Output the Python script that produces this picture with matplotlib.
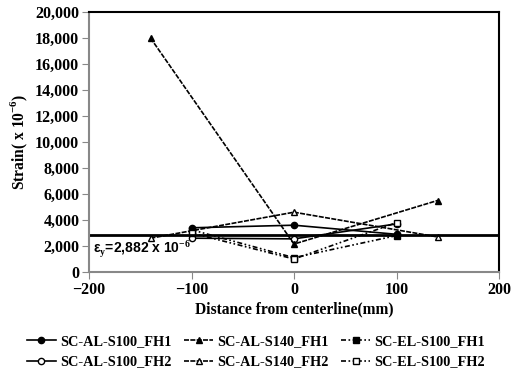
import matplotlib.pyplot as plt
from matplotlib.ticker import FuncFormatter

# ---- values ----
x_s100 = [-100, 0, 100]
x_s140 = [-140, 0, 140]

al_s100_fh1 = [3400, 3600, 2900]
al_s100_fh2 = [2600, 2550, 3700]
al_s140_fh1 = [18000, 2150, 5500]
al_s140_fh2 = [2600, 4600, 2700]
el_s100_fh1 = [3250, 1100, 2800]
el_s100_fh2 = [3000, 1000, 3800]

yield_strain = 2882

plt.rcParams['font.family'] = ['Liberation Serif', 'DejaVu Serif']
plt.rcParams['font.weight'] = 'bold'
plt.rcParams['mathtext.fontset'] = 'custom'
plt.rcParams['mathtext.rm'] = 'Liberation Serif:bold'
plt.rcParams['mathtext.bf'] = 'Liberation Serif:bold'

fig = plt.figure(figsize=(5.12, 3.74), dpi=100)
ax = fig.add_axes([89 / 512, 1 - 272 / 374, 410 / 512, 260 / 374])

dash = (0, (3, 0.8))
dashdotdot = (0, (3, 1.5, 1, 1.5, 1, 1.5))
common = dict(color='black', lw=1.2, ms=4.5, mec='black')

ax.plot(x_s100, al_s100_fh1, ls='-', marker='o', mfc='black', label='SC-AL-S100_FH1', **common)
ax.plot(x_s100, al_s100_fh2, ls='-', marker='o', mfc='white', label='SC-AL-S100_FH2', **common)
ax.plot(x_s140, al_s140_fh1, ls=dash, marker='^', mfc='black', label='SC-AL-S140_FH1', **common)
ax.plot(x_s140, al_s140_fh2, ls=dash, marker='^', mfc='white', label='SC-AL-S140_FH2', **common)
ax.plot(x_s100, el_s100_fh1, ls=dashdotdot, marker='s', mfc='black', label='SC-EL-S100_FH1', **common)
ax.plot(x_s100, el_s100_fh2, ls=dashdotdot, marker='s', mfc='white', label='SC-EL-S100_FH2', **common)

ax.axhline(yield_strain, color='black', lw=2)
ax.text(-196, yield_strain - 300, r'ε$_{\mathbf{y}}$=2,882 x 10$^{\mathbf{-6}}$',
        family=['Liberation Sans', 'DejaVu Sans'], fontsize=10, fontweight='bold', va='top', ha='left')

ax.set_xlim(-200, 200)
ax.set_ylim(0, 20000)
ax.set_xticks([-200, -100, 0, 100, 200])
ax.set_yticks(range(0, 20001, 2000))
ax.yaxis.set_major_formatter(FuncFormatter(lambda v, p: f'{int(v):,}'))
ax.tick_params(labelsize=11.5, direction='out', length=5, color='#888888', pad=2)

for s in ['left', 'bottom']:
    ax.spines[s].set_color('#888888')
    ax.spines[s].set_linewidth(1.5)
for s in ['top', 'right']:
    ax.spines[s].set_color('black')
    ax.spines[s].set_linewidth(1.5)

ax.set_xlabel('Distance from centerline(mm)', fontsize=11.2, fontweight='bold', labelpad=3)
ax.set_ylabel('Strain( x 10$^{\\mathbf{-6}}$)', fontsize=11.2, fontweight='bold', labelpad=4)

fig.legend(loc='lower center', bbox_to_anchor=(0.5, -0.02), ncol=3, frameon=False,
           fontsize=10.3, handlelength=2.0, columnspacing=0.9, labelspacing=0.55, handletextpad=0.3)

fig.savefig('out.png', dpi=100)
